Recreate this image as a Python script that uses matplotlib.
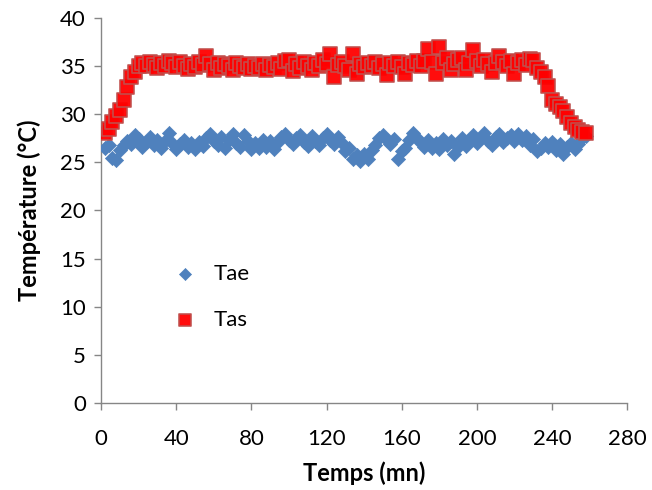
import matplotlib
matplotlib.use("Agg")
import matplotlib.pyplot as plt

plt.rcParams['font.family'] = ['Lato', 'DejaVu Sans']

# Time in minutes
temps = [2, 4, 6, 8, 10, 12, 14, 16, 18, 20, 22, 24, 26, 28, 30, 32, 34, 36, 38, 40,
         42, 44, 46, 48, 50, 52, 54, 56, 58, 60, 62, 64, 66, 68, 70, 72, 74, 76, 78, 80,
         82, 84, 86, 88, 90, 92, 94, 96, 98, 100, 102, 104, 106, 108, 110, 112, 114, 116, 118, 120,
         122, 124, 126, 128, 130, 132, 134, 136, 138, 140, 142, 144, 146, 148, 150, 152, 154, 156, 158, 160,
         162, 164, 166, 168, 170, 172, 174, 176, 178, 180, 182, 184, 186, 188, 190, 192, 194, 196, 198, 200,
         202, 204, 206, 208, 210, 212, 214, 216, 218, 220, 222, 224, 226, 228, 230, 232, 234, 236, 238, 240,
         242, 244, 246, 248, 250, 252, 254, 256, 258]

# Inlet air temperature (°C)
tae = [26.5, 26.8, 25.5, 25.2, 26.3, 26.8, 27.2, 26.9, 27.8, 27.4,
       26.6, 27.1, 27.6, 26.8, 27.3, 26.5, 27.2, 28.0, 27.0, 26.4,
       26.9, 27.3, 26.6, 27.0, 26.4, 27.1, 26.7, 27.5, 27.9, 27.2,
       26.8, 27.6, 26.5, 27.3, 27.9, 27.0, 26.6, 27.8, 27.2, 26.4,
       27.0, 26.5, 27.3, 26.6, 27.2, 26.4, 27.1, 27.6, 27.9, 27.3,
       26.9, 27.5, 27.8, 27.1, 26.7, 27.7, 27.2, 26.8, 27.5, 27.9,
       27.3, 26.9, 27.6, 27.0, 26.2, 26.5, 25.4, 25.8, 25.1, 25.9,
       25.4, 26.3, 26.8, 27.5, 27.8, 27.3, 26.9, 27.4, 25.3, 26.2,
       26.5, 27.3, 28.0, 27.5, 27.0, 26.6, 27.3, 26.5, 27.0, 26.4,
       27.4, 26.8, 27.2, 25.9, 26.6, 27.5, 26.7, 27.3, 27.8, 27.0,
       27.5, 28.0, 27.2, 26.8, 27.6, 27.9, 27.1, 27.5, 27.8, 27.2,
       27.9, 27.3, 27.7, 26.8, 27.4, 26.2, 26.5, 27.0, 26.6, 27.1,
       26.3, 26.9, 25.9, 26.6, 27.0, 26.4, 26.9, 27.5, 27.7]

# Outlet air temperature (°C)
tas = [28.0, 28.5, 29.2, 29.8, 30.4, 31.5, 32.8, 33.9, 34.4, 35.0,
       35.3, 35.0, 35.4, 35.1, 34.8, 35.3, 35.0, 35.5, 35.3, 34.9,
       35.4, 35.0, 34.7, 35.2, 34.9, 35.4, 35.1, 36.0, 35.2, 34.6,
       35.3, 34.8, 35.2, 35.0, 34.6, 35.3, 35.0, 34.8, 35.2, 34.7,
       35.0, 34.8, 35.2, 34.6, 35.1, 34.9, 35.3, 34.7, 35.5, 35.6,
       34.5, 35.2, 34.8, 35.4, 35.0, 34.6, 35.3, 35.0, 35.6, 35.2,
       36.3, 33.9, 35.1, 35.4, 35.0, 34.6, 36.3, 34.2, 35.2, 34.9,
       35.3, 35.0, 35.4, 34.8, 35.2, 34.1, 35.3, 35.0, 35.4, 34.9,
       34.2, 35.3, 35.1, 35.5, 35.0, 35.5, 36.8, 35.4, 34.2, 37.0,
       35.3, 35.8, 34.6, 35.2, 35.6, 35.8, 34.6, 35.3, 36.7, 35.5,
       35.0, 35.6, 35.2, 34.4, 35.3, 36.0, 35.4, 35.0, 35.5, 34.2,
       35.3, 35.6, 35.1, 35.7, 35.6, 34.8, 34.4, 33.9, 32.9, 31.5,
       31.1, 30.8, 30.3, 29.7, 29.1, 28.7, 28.4, 28.2, 28.1]

x_ticks = [0, 40, 80, 120, 160, 200, 240, 280]
y_ticks = [0, 5, 10, 15, 20, 25, 30, 35, 40]

fig = plt.figure(figsize=(6.52, 4.9), dpi=100)
ax = fig.add_axes([0.155, 0.1776, 0.807, 0.7857])

ax.scatter(temps, tae, marker='D', s=52, color='#4F81BD', edgecolors='#4F81BD',
           linewidths=0.5, label='Tae', zorder=3)
ax.scatter(temps, tas, marker='s', s=90, color='#FF0000', edgecolors='#C0504D',
           linewidths=1.2, alpha=0.95, label='Tas', zorder=4)

ax.set_xlim(0, 280)
ax.set_ylim(0, 40)
ax.set_xticks(x_ticks)
ax.set_yticks(y_ticks)

for side in ('top', 'right'):
    ax.spines[side].set_visible(False)
for side in ('left', 'bottom'):
    ax.spines[side].set_color('#868686')
    ax.spines[side].set_linewidth(1.0)
ax.tick_params(axis='both', direction='out', length=5, width=1.0, color='#868686',
               labelsize=16, labelcolor='black')
ax.tick_params(axis='x', pad=14)
ax.tick_params(axis='y', pad=6)

ax.set_xlabel('Temps (mn)', fontsize=17, fontweight='bold', labelpad=9)
ax.set_ylabel('Température (°C)', fontsize=17, fontweight='bold', labelpad=14)

ax.legend(loc='upper left', bbox_to_anchor=(0.1, 0.385), frameon=False,
          fontsize=16, labelspacing=1.2, handletextpad=0.3, borderaxespad=0,
          markerscale=0.85)

fig.savefig('out.png', dpi=100)
